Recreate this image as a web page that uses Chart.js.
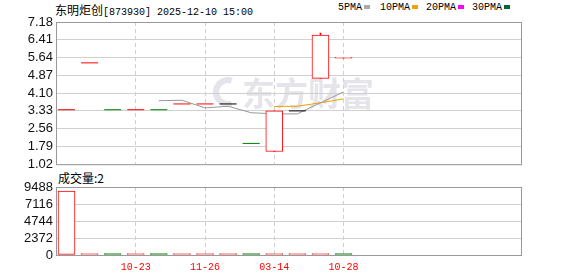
<!DOCTYPE html>
<html>
<head>
<meta charset="utf-8">
<script src="https://cdn.jsdelivr.net/npm/chart.js@4.4.1/dist/chart.umd.min.js"></script>
<style>
  body { margin: 0; background: #fff; width: 578px; height: 276px; position: relative; overflow: hidden; }
  #kline { position: absolute; left: 0; top: 0; }
  #vol { position: absolute; left: 0; top: 170px; }
  .t { position: absolute; white-space: nowrap; color: #000; line-height: 14px; }
  .cjk { font: 12px "Noto Sans CJK SC", sans-serif; }
  .mono { font: 10px "Liberation Mono", monospace; }
  .sq { display: inline-block; width: 6px; height: 4px; margin: 0 0 1px 2px; vertical-align: middle; }
</style>
</head>
<body>
<div class="t" style="left:55px;top:1px"><span class="cjk">东明炬创</span><span class="mono">[873930] 2025-12-10 15:00</span></div>
<div class="t mono" style="left:338px;top:2px">5PMA<span class="sq" style="background:#aaa"></span></div>
<div class="t mono" style="left:380px;top:2px">10PMA<span class="sq" style="background:#f0a000"></span></div>
<div class="t mono" style="left:426px;top:2px">20PMA<span class="sq" style="background:#ff00ff"></span></div>
<div class="t mono" style="left:472px;top:2px">30PMA<span class="sq" style="background:#006633"></span></div>
<div class="t cjk" style="left:58px;top:169px">成交量:2</div>
<canvas id="kline" width="578" height="175"></canvas>
<canvas id="vol" width="578" height="106"></canvas>
<script>
// 日K数据 (从图上读出来的)
const dias   = [0, 1, 2, 3, 4, 5, 6, 7, 8, 9, 10, 11, 12];
const abre   = [3.38, 5.41, 3.38, 3.38, 3.38, 3.63, 3.63, 3.63, 1.92, 1.57, 3.33, 4.74, 5.61];
const fecha  = [3.38, 5.41, 3.38, 3.38, 3.38, 3.63, 3.63, 3.63, 1.92, 3.33, 3.33, 6.61, 5.65];
const maxima = [3.38, 5.41, 3.38, 3.38, 3.38, 3.63, 3.63, 3.63, 1.92, 3.33, 3.33, 6.70, 5.65];
const minima = [3.38, 5.41, 3.38, 3.38, 3.38, 3.63, 3.63, 3.63, 1.92, 1.57, 3.33, 4.74, 5.61];
const tendencia = [1, 1, -1, 1, -1, 1, 1, 0, -1, 1, 0, 1, 1];   // 1 sobe, -1 desce, 0 igual
const ma5  = [null, null, null, null, 3.77, 3.79, 3.46, 3.53, 3.25, 3.20, 3.20, 3.68, 4.15];
const ma10 = [null, null, null, null, null, null, null, null, null, 3.52, 3.53, 3.68, 3.85];
const volume = [8930, 3, 1, 2, 1, 5, 2, 1, 4, 6, 1, 3, 2];
const volTendencia = [1, 1, -1, 1, -1, 1, 1, 1, -1, 1, 1, 1, -1];

const precoTicks = [1.02, 1.79, 2.56, 3.33, 4.10, 4.87, 5.64, 6.41, 7.18];
const volTicks = [0, 2372, 4744, 7116, 9488];
const dataIdx = [3, 6, 9, 12];
const dataTxt = ['10-23', '11-26', '03-14', '10-28'];

const VERMELHO = '#f00', VERDE = '#008000', PRETO = '#000';
const cor = t => t > 0 ? VERMELHO : (t < 0 ? VERDE : PRETO);

const moldura = {
  id: 'moldura',
  beforeDatasetsDraw(chart) {
    const a = chart.chartArea, ctx = chart.ctx;
    ctx.save();
    ctx.strokeStyle = '#999';
    ctx.lineWidth = 1;
    ctx.strokeRect(a.left + 0.5, a.top + 0.5, a.right - a.left - 1, a.bottom - a.top);
    ctx.restore();
  }
};

const marcaDagua = {
  id: 'marcaDagua',
  beforeDraw(chart) {
    const ctx = chart.ctx;
    ctx.save();
    ctx.fillStyle = '#e4e4ea';
    ctx.strokeStyle = '#e4e4ea';
    ctx.lineWidth = 6;
    ctx.beginPath();
    ctx.arc(228, 92, 12, Math.PI * 0.4, Math.PI * 1.6);
    ctx.stroke();
    ctx.font = 'bold 33px "Noto Sans CJK SC"';
    ctx.textBaseline = 'middle';
    ctx.fillText('东方财富', 242, 93);
    ctx.restore();
  }
};

const eixoX = {
  type: 'linear', min: -0.455, max: 19.73, offset: false,
  afterBuildTicks: s => { s.ticks = dataIdx.map(v => ({ value: v })); },
  grid: { color: '#d0d0d0', drawTicks: false, offset: false },
  border: { display: false, dash: [4, 3] }
};

const k = new Chart(document.getElementById('kline'), {
  data: {
    datasets: [
      {
        type: 'line', order: 0, showLine: false,
        data: dias.map(i => abre[i] === fecha[i] ? { x: i, y: fecha[i] } : { x: i, y: null }),
        pointStyle: 'line', pointRadius: 8.5, pointBorderWidth: 1,
        pointBorderColor: dias.map(i => cor(tendencia[i]))
      },
      {
        type: 'bar', order: 1, grouped: false, barThickness: 17,
        data: dias.map(i => abre[i] !== fecha[i] ? { x: i, y: [abre[i], fecha[i]] } : { x: i, y: null }),
        backgroundColor: dias.map(i => tendencia[i] > 0 ? '#fff' : cor(tendencia[i])),
        borderColor: dias.map(i => cor(tendencia[i])),
        borderWidth: 1, borderSkipped: false
      },
      {
        type: 'bar', order: 2, grouped: false, barThickness: 1,
        data: dias.map(i => maxima[i] > minima[i] ? { x: i, y: [minima[i], maxima[i]] } : { x: i, y: null }),
        backgroundColor: dias.map(i => cor(tendencia[i])), borderWidth: 0
      },
      {
        type: 'line', order: 3, data: dias.map(i => ({ x: i, y: ma5[i] })),
        borderColor: '#999', borderWidth: 1, pointRadius: 0, spanGaps: false
      },
      {
        type: 'line', order: 4, data: dias.map(i => ({ x: i, y: ma10[i] })),
        borderColor: '#f0a000', borderWidth: 1, pointRadius: 0
      }
    ]
  },
  options: {
    responsive: false, animation: false,
    layout: { padding: { left: 0, right: 56, top: 22, bottom: 10 } },
    plugins: { legend: { display: false }, tooltip: { enabled: false } },
    scales: {
      x: Object.assign({}, eixoX, { ticks: { display: false }, afterFit: s => { s.height = 0; } }),
      y: {
        min: 1.02, max: 7.18,
        afterBuildTicks: s => { s.ticks = precoTicks.map(v => ({ value: v })); },
        afterFit: s => { s.width = 56; },
        ticks: { color: '#111', padding: 3, autoSkip: false, font: { family: 'Liberation Sans', size: 13 }, callback: v => v.toFixed(2) },
        grid: { color: '#d0d0d0', drawTicks: false },
        border: { display: false }
      }
    }
  },
  plugins: [marcaDagua, moldura]
});

const v = new Chart(document.getElementById('vol'), {
  type: 'bar',
  data: {
    datasets: [{
      data: dias.map(i => ({ x: i, y: volume[i] })),
      barThickness: 17, minBarLength: 1.5,
      backgroundColor: dias.map(i => volTendencia[i] > 0 ? '#fff' : VERDE),
      borderColor: dias.map(i => volTendencia[i] > 0 ? VERMELHO : VERDE),
      borderWidth: 1, borderSkipped: false
    }]
  },
  options: {
    responsive: false, animation: false,
    layout: { padding: { left: 0, right: 56, top: 17, bottom: 0 } },
    plugins: { legend: { display: false }, tooltip: { enabled: false } },
    scales: {
      x: Object.assign({}, eixoX, {
        afterFit: s => { s.height = 21; },
        ticks: {
          color: VERMELHO, padding: 6, maxRotation: 0, autoSkip: false,
          font: { family: 'Liberation Mono', size: 10 },
          callback: val => dataTxt[dataIdx.indexOf(val)]
        }
      }),
      y: {
        min: 0, max: 9488,
        afterBuildTicks: s => { s.ticks = volTicks.map(t => ({ value: t })); },
        afterFit: s => { s.width = 56; },
        ticks: { color: '#111', padding: 3, autoSkip: false, font: { family: 'Liberation Sans', size: 13 }, callback: t => String(t) },
        grid: { color: '#d0d0d0', drawTicks: false },
        border: { display: false }
      }
    }
  },
  plugins: [moldura]
});
</script>
</body>
</html>
